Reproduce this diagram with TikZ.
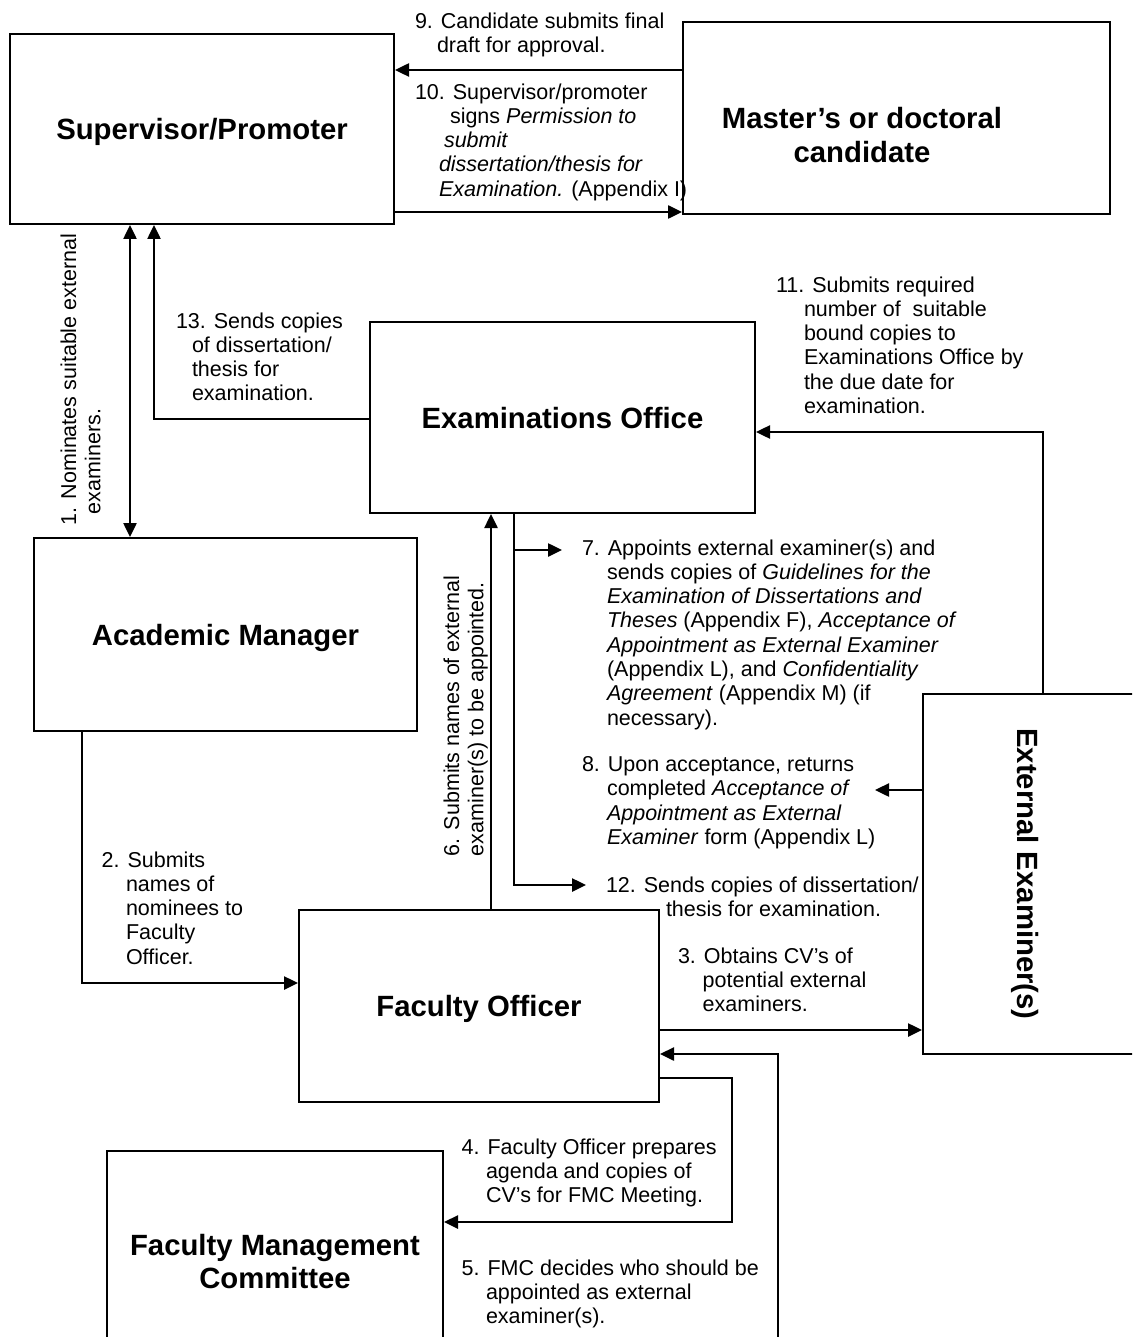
\documentclass[tikz,border=0pt]{standalone}
\usepackage{fontspec}
\setmainfont{Liberation Sans}
\usetikzlibrary{arrows.meta}
% type sizes: step texts and box titles
\newcommand\lblsize{\fontsize{21.5}{24.3}\selectfont}
\newcommand\ttlsize{\fontsize{29.3}{33.7}\selectfont\bfseries}
% a block of step text, one line per row
\newcommand\steps[1]{\begin{tabular}{@{}l@{}}#1\end{tabular}}
\newcommand\ind[1]{\hspace*{#1pt}}

\begin{document}
\begin{tikzpicture}[x=1pt,y=-1pt,
  box/.style={draw, line width=2pt, rectangle, inner sep=0pt, font=\ttlsize, align=center},
  oneline/.style={text height=21.4pt, text depth=0pt},
  ttl/.style={font=\ttlsize, align=center, inner sep=0pt},
  lbl/.style={anchor=north west, inner sep=0pt, outer sep=0pt, font=\lblsize},
  tip/.tip={Triangle[length=14pt,width=13pt]},
  arr/.style={line width=2.5pt, -tip},
  dblarr/.style={line width=2.5pt, tip-tip}]

\useasboundingbox (0,0) rectangle (1132,1337);
\fill[white] (0,0) rectangle (1132,1337);
\clip (0,0) rectangle (1132,1337);

% ---------- participants ----------
\node[box, oneline, minimum width=384, minimum height=190] (sup) at (202,129) {Supervisor/Promoter};
\node[box, minimum width=427, minimum height=192] (mast) at (896.5,118) {};
\node[ttl] (mtitle) at (862,135) {Master’s or doctoral\\candidate};
\node[box, oneline, minimum width=385, minimum height=191] (exam) at (562.5,417.5) {Examinations Office};
\node[box, oneline, minimum width=383, minimum height=193] (acad) at (225.5,634.5) {Academic Manager};
\node[box, oneline, minimum width=360, minimum height=192] (fac) at (479,1006) {Faculty Officer};
\node[box, minimum width=336, minimum height=221] (fmc) at (275,1261.5) {Faculty Management\\Committee};
\node[box, minimum width=211, minimum height=360] (ext) at (1028.5,874) {};
\node[ttl, oneline, rotate=-90] (etitle) at (1028,874) {External Examiner(s)};

% ---------- connectors ----------
\draw[dblarr] (sup.south -| 130,0) -- (acad.north -| 130,0);
\draw[arr] (exam.west |- 0,419) -| (sup.south -| 154,0);
\draw[arr] (mast.west |- 0,70) -- (sup.east |- 0,70);
\draw[arr] (sup.east |- 0,212) -- (mast.west |- 0,212);
\draw[arr] (ext.north -| 1043,0) |- (exam.east |- 0,432);
\draw[arr] (acad.south -| 82,0) |- (fac.west |- 0,983);
\draw[arr] (fac.north -| 491,0) -- (exam.south -| 491,0);

\coordinate (j7) at (514,550);
\coordinate (j12) at (514,885);
\coordinate (t7) at (562,550);
\coordinate (t12) at (586,885);
\draw[arr] (exam.south -| j12) -- (j12) -- (t12);
\draw[arr] (j7) -- (t7);

\coordinate (t8) at (875,790);
\draw[arr] (ext.west |- t8) -- (t8);

\draw[arr] (fac.east |- 0,1030) -- (ext.west |- 0,1030);

\coordinate (c4) at (732,1222);
\draw[arr] (fac.east |- 0,1078) -| (c4) -- (fmc.east |- c4);

\coordinate (s5) at (778,1345);
\draw[arr] (s5) |- (fac.east |- 0,1054);

% ---------- step texts ----------
\node[lbl, rotate=90] (l1) at (59,525) {\steps{1. Nominates suitable external\\ \ind{11}examiners.}};

\node[lbl] (l2) at (101.7,850) {\steps{2. Submits\\ \ind{24.3}names of\\ \ind{24.3}nominees to\\ \ind{24.3}Faculty\\ \ind{24.3}Officer.}};

\node[lbl] (l3) at (678,946) {\steps{3. Obtains CV’s of\\ \ind{24.7}potential external\\ \ind{24.7}examiners.}};

\node[lbl] (l4) at (461.7,1137) {\steps{4. Faculty Officer prepares\\ \ind{24.3}agenda and copies of\\ \ind{24.3}CV’s for FMC Meeting.}};

\node[lbl] (l5) at (461.7,1258) {\steps{5. FMC decides who should be\\ \ind{24.3}appointed as external\\ \ind{24.3}examiner(s).}};

\node[lbl, rotate=90] (l6) at (442,856) {\steps{6. Submits names of external\\ examiner(s) to be appointed.}};

\node[lbl] (l7) at (582,538) {\steps{7. Appoints external examiner(s) and\\
  \ind{25}sends copies of \textit{Guidelines for the}\\
  \ind{25}\textit{Examination of Dissertations and}\\
  \ind{25}\textit{Theses} (Appendix F), \textit{Acceptance of}\\
  \ind{25}\textit{Appointment as External Examiner}\\
  \ind{25}(Appendix L), and \textit{Confidentiality}\\
  \ind{25}\textit{Agreement} (Appendix M) (if\\
  \ind{25}necessary).}};

\node[lbl] (l8) at (582,754.5) {\steps{8. Upon acceptance, returns\\
  \ind{25}completed \textit{Acceptance of}\\
  \ind{25}\textit{Appointment as External}\\
  \ind{25}\textit{Examiner} form (Appendix L)}};

\node[lbl] (l9) at (415,11) {\steps{9. Candidate submits final\\ \ind{22}draft for approval.}};

\node[lbl] (l10) at (415,82) {\steps{10. Supervisor/promoter\\
  \ind{35}signs \textit{Permission to}\\
  \ind{29}\textit{submit}\\
  \ind{24}\textit{dissertation/thesis for}\\
  \ind{24}\textit{Examination.} (Appendix I)}};

\node[lbl] (l11) at (776,275) {\steps{11. Submits required\\
  \ind{28}number of~ suitable\\
  \ind{28}bound copies to\\
  \ind{28}Examinations Office by\\
  \ind{28}the due date for\\
  \ind{28}examination.}};

\node[lbl] (l12) at (606,875) {\steps{12. Sends copies of dissertation/\\ \ind{60}thesis for examination.}};

\node[lbl] (l13) at (176,311) {\steps{13. Sends copies\\ \ind{16}of dissertation/\\ \ind{16}thesis for\\ \ind{16}examination.}};

\end{tikzpicture}
\end{document}
